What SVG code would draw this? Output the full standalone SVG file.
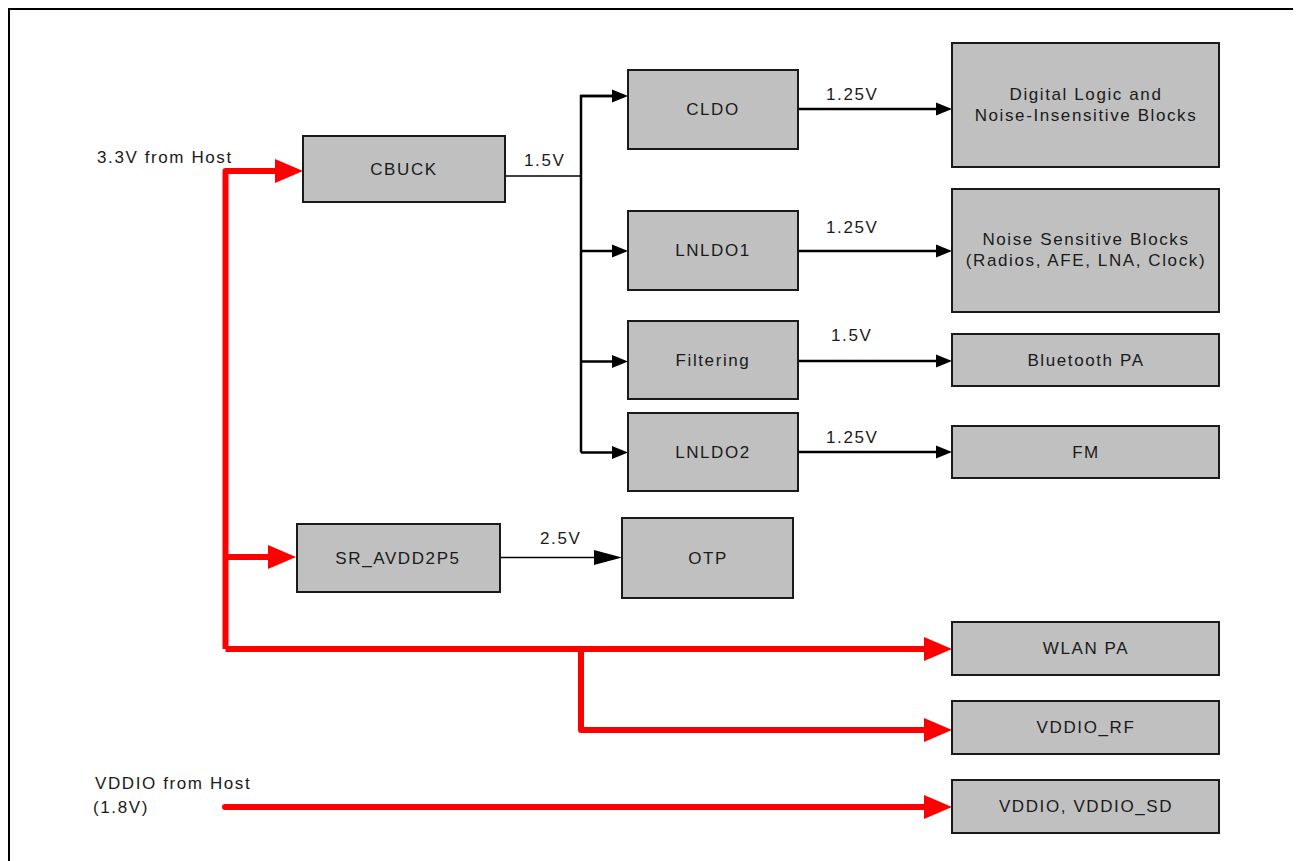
<svg xmlns="http://www.w3.org/2000/svg" width="1296" height="861" viewBox="0 0 1296 861">
<style>
text{font-family:"Liberation Sans",Arial,sans-serif;font-size:17px;letter-spacing:1.6px;fill:#1a1a1a}
.c{text-anchor:middle}
.box{fill:#c0c0c0;stroke:#1a1a1a;stroke-width:2}
.red{fill:none;stroke:#ff0000;stroke-width:6;stroke-linejoin:round}
.blk{fill:none;stroke:#000;stroke-width:2.5}
.thin{fill:none;stroke:#000;stroke-width:1.3}
</style>
<defs>
<marker id="ra" markerUnits="userSpaceOnUse" markerWidth="30" markerHeight="26" viewBox="0 -13 30 26" refX="0" refY="0" orient="auto"><path d="M0,-12 L28,0 L0,12 z" fill="#ff0000"/></marker>
<marker id="ba" markerUnits="userSpaceOnUse" markerWidth="18" markerHeight="16" viewBox="0 -8 18 16" refX="0" refY="0" orient="auto"><path d="M0,-6.5 L16,0 L0,6.5 z" fill="#000"/></marker>
<marker id="bb" markerUnits="userSpaceOnUse" markerWidth="30" markerHeight="18" viewBox="0 -9 30 18" refX="0" refY="0" orient="auto"><path d="M0,-7.5 L28,0 L0,7.5 z" fill="#000"/></marker>
</defs>
<rect width="1296" height="861" fill="#fff"/>
<path d="M9,862 V9 H1293" fill="none" stroke="#000" stroke-width="2"/>

<g id="connectors">
<path class="red" d="M225.5,649 V171 H275" marker-end="url(#ra)"/>
<path class="red" d="M225.5,557 H268" marker-end="url(#ra)"/>
<path class="red" d="M225.5,649 H924" marker-end="url(#ra)"/>
<path class="red" d="M581,649 V730 H924" marker-end="url(#ra)"/>
<path class="red" d="M225,807 H924" stroke-linecap="round" marker-end="url(#ra)"/>
<path class="thin" d="M505,176 H581"/>
<path class="blk" d="M612,96 H581 V452.5"/>
<path class="blk" d="M581,96 H612" marker-end="url(#ba)"/>
<path class="blk" d="M581,251 H612" marker-end="url(#ba)"/>
<path class="blk" d="M581,361.5 H612" marker-end="url(#ba)"/>
<path class="blk" d="M581,452.5 H612" marker-end="url(#ba)"/>
<path class="blk" d="M798,109 H936" marker-end="url(#ba)"/>
<path class="blk" d="M798,251 H936" marker-end="url(#ba)"/>
<path class="blk" d="M798,361 H936" marker-end="url(#ba)"/>
<path class="blk" d="M798,452 H936" marker-end="url(#ba)"/>
<path class="thin" d="M500,557.5 H594" stroke-width="2" marker-end="url(#bb)"/>
<text x="524" y="166">1.5V</text>
<text x="826" y="100">1.25V</text>
<text x="826" y="233">1.25V</text>
<text x="831" y="341">1.5V</text>
<text x="826" y="443">1.25V</text>
<text x="540" y="544">2.5V</text>
</g>

<g id="label-host33"><text x="97" y="163">3.3V from Host</text></g>
<g id="label-vddio-host"><text x="95" y="789">VDDIO from Host</text><text x="93" y="813">(1.8V)</text></g>

<g id="cbuck"><rect class="box" x="303" y="136" width="202" height="66"/><text class="c" x="404" y="175">CBUCK</text></g>
<g id="cldo"><rect class="box" x="628" y="70" width="170" height="79"/><text class="c" x="713" y="115">CLDO</text></g>
<g id="lnldo1"><rect class="box" x="628" y="211" width="170" height="79"/><text class="c" x="713" y="256">LNLDO1</text></g>
<g id="filtering"><rect class="box" x="628" y="321" width="170" height="78"/><text class="c" x="713" y="366">Filtering</text></g>
<g id="lnldo2"><rect class="box" x="628" y="413" width="170" height="78"/><text class="c" x="713" y="458">LNLDO2</text></g>
<g id="digital"><rect class="box" x="952" y="43" width="267" height="124"/><text class="c" x="1086" y="100">Digital Logic and</text><text class="c" x="1086" y="121">Noise-Insensitive Blocks</text></g>
<g id="noise"><rect class="box" x="952" y="189" width="267" height="123"/><text class="c" x="1086" y="245">Noise Sensitive Blocks</text><text class="c" x="1086" y="266">(Radios, AFE, LNA, Clock)</text></g>
<g id="btpa"><rect class="box" x="952" y="334" width="267" height="52"/><text class="c" x="1086" y="366">Bluetooth PA</text></g>
<g id="fm"><rect class="box" x="952" y="426" width="267" height="52"/><text class="c" x="1086" y="458">FM</text></g>
<g id="sr"><rect class="box" x="297" y="524" width="203" height="68"/><text class="c" x="398" y="564">SR_AVDD2P5</text></g>
<g id="otp"><rect class="box" x="622" y="518" width="171" height="80"/><text class="c" x="708" y="564">OTP</text></g>
<g id="wlanpa"><rect class="box" x="952" y="622" width="267" height="53"/><text class="c" x="1086" y="654">WLAN PA</text></g>
<g id="vddiorf"><rect class="box" x="952" y="701" width="267" height="53"/><text class="c" x="1086" y="733">VDDIO_RF</text></g>
<g id="vddiosd"><rect class="box" x="952" y="780" width="267" height="53"/><text class="c" x="1086" y="812">VDDIO, VDDIO_SD</text></g>
</svg>
